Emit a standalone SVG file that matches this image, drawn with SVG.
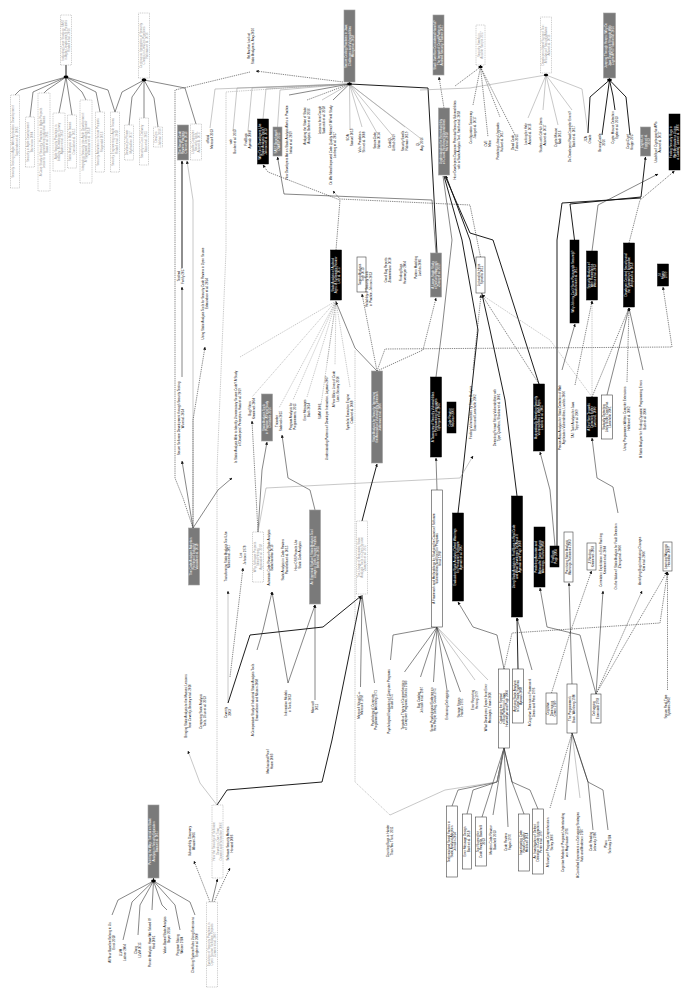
<svg xmlns="http://www.w3.org/2000/svg" width="689" height="997" viewBox="0 0 689 997">
<defs>
<marker id="ar" viewBox="0 0 6 6" refX="5.5" refY="3" markerWidth="3" markerHeight="3" markerUnits="userSpaceOnUse" orient="auto"><path d="M0,0L6,3L0,6z" fill="#111"/></marker>
<style>
text{font-family:"Liberation Sans",Arial,sans-serif;font-size:3px;text-anchor:middle;fill:#111}
.bk rect{fill:#000;stroke:#000;stroke-width:.5}
.bk text{fill:#fff}
.gr rect{fill:#7a7a7a;stroke:#a0a0a0;stroke-width:.6}
.gr text{fill:#fff}
.wh rect{fill:#fff;stroke:#444;stroke-width:.6}
.dt rect{fill:#fff;stroke:#999;stroke-width:.5;stroke-dasharray:1 .8}
.dt text{fill:#999}
.hub{fill:#000}
#edges polyline{fill:none;stroke:#222;stroke-width:.55}
#edges .t{stroke:#111;stroke-width:.95}
#edges .g{stroke:#9a9a9a}
#edges .d{stroke-dasharray:1.3 .9}
#edges .a{marker-end:url(#ar)}
</style>
</defs>
<rect width="689" height="997" fill="#fff"/>

<g id="edges">
<polyline class="t" points="66,65 66,77"/>
<polyline points="66,77 20,90 15,95"/>
<polyline points="66,77 33,92 30,117"/>
<polyline points="66,77 47,90 44,93"/>
<polyline points="66,77 59,113"/>
<polyline points="66,77 72,115"/>
<polyline points="66,77 82,92 86,100"/>
<polyline points="66,77 96,92 100,112"/>
<polyline points="66,77 108,90 115,112"/>
<polyline class="t" points="144,78 144,80"/>
<polyline points="144,80 122,92 115,112"/>
<polyline points="144,80 132,97 129,125"/>
<polyline points="144,80 144,118"/>
<polyline points="144,80 154,98 158,127"/>
<polyline points="144,80 185,88 196,124"/>
<polyline class="d" points="193,528 183,498 175,478 175,90 250,72"/>
<polyline class="d a" points="343,82 256,71"/>
<polyline class="d g" points="217,805 217,470 226,250 226,92 300,87 349.5,84"/>
<polyline class="t" points="349.5,82 349.5,84"/>
<polyline class="g" points="349.5,84 215,89 210,128"/>
<polyline class="g" points="349.5,84 237,88 233,131"/>
<polyline class="g" points="349.5,84 252,88 248,131"/>
<polyline class="g" points="349.5,84 266,89 263,119"/>
<polyline class="g" points="349.5,84 280,90 277.5,127"/>
<polyline points="349.5,84 289,95"/>
<polyline class="d" points="349.5,84 307,100"/>
<polyline class="g" points="349.5,84 322,100"/>
<polyline points="349.5,84 333,100"/>
<polyline class="g" points="349.5,84 350,130"/>
<polyline class="g" points="349.5,84 362,127"/>
<polyline class="g" points="349.5,84 377,133"/>
<polyline class="g" points="349.5,84 392,135"/>
<polyline class="g" points="349.5,84 405,127"/>
<polyline class="g" points="349.5,84 420,138"/>
<polyline class="t" points="349.5,84 428,88 437,253"/>
<polyline class="d a" points="444,108 439,77"/>
<polyline class="t" points="480.5,65 480.5,67"/>
<polyline class="d" points="480.5,67 473,105"/>
<polyline class="d" points="480.5,67 488,137"/>
<polyline class="d" points="480.5,67 500,117"/>
<polyline class="d" points="480.5,67 515,135"/>
<polyline class="d" points="480.5,67 455,86"/>
<polyline class="g" points="546,73 546,75"/>
<polyline class="g" points="546,75 528,118"/>
<polyline class="g" points="546,75 543,110"/>
<polyline class="g" points="546,75 558,125"/>
<polyline class="g" points="546,75 572,110"/>
<polyline class="g" points="546,75 470,88 420,90"/>
<polyline class="g" points="546,75 582,89 588,133"/>
<polyline class="t" points="609.5,78 609.5,80"/>
<polyline class="t" points="609.5,80 590,97 588,133"/>
<polyline class="t" points="609.5,80 602,135"/>
<polyline class="t" points="609.5,80 613,96 615,110"/>
<polyline class="t" points="609.5,80 626,97 630,135"/>
<polyline class="a" points="436,253 432,200 284,194 277.5,157"/>
<polyline class="d a" points="336,250 340,200 268,172 263,165"/>
<polyline class="t a" points="574.5,240 570,204 641,197 645.5,157"/>
<polyline class="d a" points="629,243 640,200 674.5,171"/>
<polyline class="a" points="592,251 598,205 658,174"/>
<polyline class="d a" points="480.5,257 470,205 340,199 333,191"/>
<polyline class="t a" points="517,496 505,400 490,330 470,240 446,176"/>
<polyline class="t" points="458,513 463,470 478,330 462,240 444,176"/>
<polyline points="436,377 442,330 452,240 443,176"/>
<polyline class="t" points="539,384 493,240 470,233 445,176"/>
<polyline class="t" points="557,546 557,240 562,203 641,198"/>
<polyline class="g d" points="336,301 240,357"/>
<polyline class="g d" points="336,301 252,397"/>
<polyline class="g d" points="336,301 279,408"/>
<polyline class="g d" points="336,301 293,400"/>
<polyline class="g d" points="336,301 307,397"/>
<polyline class="g d" points="336,301 321,405"/>
<polyline class="g d" points="336,301 327,363"/>
<polyline class="g d" points="336,301 335,365"/>
<polyline class="g d" points="336,301 350,387"/>
<polyline class="a" points="377,371 355,348 336,302"/>
<polyline class="d a" points="377,371 362,294"/>
<polyline class="d a" points="377,371 423,350 436,298"/>
<polyline class="d a" points="377,371 385,349 672,347 663,287"/>
<polyline class="a" points="437,490 436,458"/>
<polyline class="d a" points="539,384 482,295"/>
<polyline class="d a" points="473,370 481,295"/>
<polyline class="g d a" points="592,397 550,340 482,295"/>
<polyline class="a" points="562,370 575,324"/>
<polyline class="g d a" points="592,397 592,301"/>
<polyline class="d a" points="575,385 592,301"/>
<polyline class="a" points="607,395 629,308"/>
<polyline class="a" points="643,370 629,308"/>
<polyline class="d a" points="627,382 629,308"/>
<polyline class="d" points="592,397 629,308"/>
<polyline class="t a" points="182,268 182,161"/>
<polyline class="a" points="182,377 182,287"/>
<polyline class="g a" points="193,528 193,200 187,161"/>
<polyline class="d a" points="193,528 193,420 205,347"/>
<polyline class="a" points="193,528 218,490 232,478"/>
<polyline class="a" points="193,528 182,461"/>
<polyline class="a" points="258,532 262,470 267,442"/>
<polyline class="d a" points="258,532 252,421"/>
<polyline class="a" points="315,510 310,490 288,478 282,435"/>
<polyline class="g a" points="258,532 266,488 460,478 473,456"/>
<polyline class="t a" points="362,521 370,490 377,464"/>
<polyline class="a" points="315,700 315,605"/>
<polyline class="a" points="288,683 315,605"/>
<polyline class="a" points="257,650 263,630 272,592"/>
<polyline class="a" points="288,683 272,592"/>
<polyline class="d a" points="230,677 243,568"/>
<polyline class="g a" points="228,703 228,591"/>
<polyline class="t a" points="217,805 227,790 322,782 332,740 361,596"/>
<polyline class="t a" points="228,703 250,635 323,627 361,596"/>
<polyline points="362,595 360.5,687"/>
<polyline points="362,595 374.5,683"/>
<polyline points="437,627 393,635 390.5,660"/>
<polyline points="437,627 404.5,672"/>
<polyline points="437,627 420.5,677"/>
<polyline points="437,627 433.5,682"/>
<polyline points="437,627 447,690"/>
<polyline points="437,627 460.5,692"/>
<polyline class="g" points="437,627 475,680"/>
<polyline class="g" points="437,627 488,680"/>
<polyline class="a" points="504,669 497,635 473,627 458,602"/>
<polyline class="d a" points="504,669 512,633 660,623 667.5,572"/>
<polyline class="t a" points="518,669 517,618"/>
<polyline class="a" points="532,670 517,618"/>
<polyline class="a" points="596,694 580,635 547,627 540,588"/>
<polyline class="d a" points="551.5,693 570,633 591.5,571"/>
<polyline class="a" points="596,694 603,591"/>
<polyline class="d a" points="596,694 642,591"/>
<polyline class="d a" points="596,694 667,572"/>
<polyline class="d a" points="667.5,690 667.5,572"/>
<polyline class="a" points="555,546 550,490 540,452"/>
<polyline class="a" points="618,513 613,487 597,478 592,438"/>
<polyline class="a" points="572,684 569,583"/>
<polyline points="504,748 497,782 458,790 452,806"/>
<polyline points="504,748 497,782 473,790 467,814"/>
<polyline points="504,748 482,817"/>
<polyline points="504,748 493,815"/>
<polyline points="504,748 508,827"/>
<polyline points="504,748 512,782 524,814"/>
<polyline points="504,748 512,782 530,790 538,809"/>
<polyline class="g" points="504,748 497,782 445,790 390,815"/>
<polyline class="d g" points="390,815 355,782 355,350"/>
<polyline class="d" points="572,733 550,808"/>
<polyline points="572,733 565,800"/>
<polyline class="g" points="572,733 580,798"/>
<polyline points="572,733 588,782 593,830"/>
<polyline points="572,733 588,782 603,790 608,830"/>
<polyline class="t" points="153.5,878 153.5,881"/>
<polyline points="153.5,881 118,900 112,915"/>
<polyline points="153.5,881 132,902 123,940"/>
<polyline points="153.5,881 140,905 138,935"/>
<polyline points="153.5,881 152,910"/>
<polyline points="153.5,881 162,905 167,910"/>
<polyline points="153.5,881 175,905 180,930"/>
<polyline points="153.5,881 190,902 195,915"/>
<polyline class="a" points="212,902 217.5,879"/>
<polyline class="d a" points="210,902 194,861"/>
<polyline class="d a" points="214,902 230,868"/>
<polyline class="g a" points="217,805 200,783 188,751"/>
</g>

<g id="hubs">
<ellipse class="hub" cx="66" cy="77" rx="2.4" ry="1.4"/>
<ellipse class="hub" cx="144" cy="80" rx="2.4" ry="1.4"/>
<ellipse class="hub" cx="349.5" cy="84" rx="2.4" ry="1.4"/>
<ellipse class="hub" cx="480.5" cy="67" rx="2.2" ry="1.3"/>
<ellipse class="hub" cx="546" cy="75" rx="2.2" ry="1.3" fill="#999"/>
<ellipse class="hub" cx="609.5" cy="80" rx="2.4" ry="1.4"/>
<ellipse class="hub" cx="153.5" cy="881" rx="2.4" ry="1.4"/>
</g>

<g id="n1" class="dt" transform="translate(66,40) rotate(-90)"><rect x="-25" y="-5.5" width="50" height="11"/><text><tspan x="0" y="-2.35">Industrial Case Study on SAST</tspan><tspan x="0" y="1.05">in Agile Development Projects</tspan><tspan x="0" y="4.45">Rindell et al. 2016</tspan></text></g>
<g id="c1" class="dt" transform="translate(15,141.5) rotate(-90)"><rect x="-46.5" y="-4.5" width="93" height="9"/><text><tspan x="0" y="-0.65">Security Testing in Agile Web Application Development</tspan><tspan x="0" y="2.75">Tappenden et al. 2005</tspan></text></g>
<g id="c2" class="dt" transform="translate(30,142) rotate(-90)"><rect x="-25" y="-4.5" width="50" height="9"/><text><tspan x="0" y="-0.65">Security in Agile Development</tspan><tspan x="0" y="2.75">Beznosov 2004</tspan></text></g>
<g id="c3" class="dt" transform="translate(44,142) rotate(-90)"><rect x="-49" y="-6" width="98" height="12"/><text><tspan x="0" y="-2.35">A Case Study of Security Practices in Agile Projects</tspan><tspan x="0" y="1.05">Lessons Learned from Industrial Teams</tspan><tspan x="0" y="4.45">Baca et al. 2011</tspan></text></g>
<g id="c4" class="dt" transform="translate(59,142) rotate(-90)"><rect x="-29" y="-6" width="58" height="12"/><text><tspan x="0" y="-2.35">Agile Security Practices in</tspan><tspan x="0" y="1.05">Industry: A Developer Survey</tspan><tspan x="0" y="4.45">Ayalew et al. 2013</tspan></text></g>
<g id="c5" class="dt" transform="translate(72,141.5) rotate(-90)"><rect x="-26.5" y="-4.5" width="53" height="9"/><text><tspan x="0" y="-0.65">Static Analysis in Agile Teams</tspan><tspan x="0" y="2.75">Oueslati et al. 2015</tspan></text></g>
<g id="c6" class="dt" transform="translate(86,141.5) rotate(-90)"><rect x="-41.5" y="-6" width="83" height="12"/><text><tspan x="0" y="-2.35">Integrating Security into Agile Development:</tspan><tspan x="0" y="1.05">A Systematic Literature Review</tspan><tspan x="0" y="4.45">Villamizar et al. 2018</tspan></text></g>
<g id="c7" class="dt" transform="translate(100,142) rotate(-90)"><rect x="-30" y="-4.5" width="60" height="9"/><text><tspan x="0" y="-0.65">Security Activities in Scrum Projects</tspan><tspan x="0" y="2.75">Fitzgerald 2016</tspan></text></g>
<g id="c8" class="dt" transform="translate(115,142) rotate(-90)"><rect x="-30" y="-4.5" width="60" height="9"/><text><tspan x="0" y="-0.65">Security Engineering in Agile Teams</tspan><tspan x="0" y="2.75">Rindell et al. 2018</tspan></text></g>
<g id="n2" class="dt" transform="translate(144,45.5) rotate(-90)"><rect x="-32.5" y="-5.5" width="65" height="11"/><text><tspan x="0" y="-2.35">Continuous Integration of Security</tspan><tspan x="0" y="1.05">Checks in DevOps Pipelines</tspan><tspan x="0" y="4.45">Rahman et al. 2016</tspan></text></g>
<g id="c9" class="dt" transform="translate(129,142.5) rotate(-90)"><rect x="-17.5" y="-4.5" width="35" height="9"/><text><tspan x="0" y="-0.65">DevSecOps Primer</tspan><tspan x="0" y="2.75">Myrbakken 2017</tspan></text></g>
<g id="c10" class="dt" transform="translate(144,141.5) rotate(-90)"><rect x="-23.5" y="-4.5" width="47" height="9"/><text><tspan x="0" y="-0.65">Security in Cont. Delivery</tspan><tspan x="0" y="2.75">Bass et al. 2015</tspan></text></g>
<g id="c11" class="dt" transform="translate(158,137) rotate(-90)"><rect x="-10" y="-4.5" width="20" height="9"/><text><tspan x="0" y="-0.65">DevOps</tspan><tspan x="0" y="2.75">Jabbari 2016</tspan></text></g>
<g id="c12" class="dt" transform="translate(196,142) rotate(-90)"><rect x="-18" y="-5.5" width="36" height="11"/><text><tspan x="0" y="-2.35">Usable Computer</tspan><tspan x="0" y="1.05">Security Tools</tspan><tspan x="0" y="4.45">Acar et al. 2017</tspan></text></g>
<g id="g1" class="gr" transform="translate(183,142.5) rotate(-90)"><rect x="-17.5" y="-5.5" width="35" height="11"/><text><tspan x="0" y="-2.35">The Secure Code</tspan><tspan x="0" y="1.05">Review Practices</tspan><tspan x="0" y="4.45">Chen et al. 2013</tspan></text></g>
<g id="l_fortify" transform="translate(181,276) rotate(-90)"><text><tspan x="0" y="-0.65">Testbed</tspan><tspan x="0" y="2.75">Fortify 2017</tspan></text></g>
<g id="l_wu" transform="translate(181,418.5) rotate(-90)"><text><tspan x="0" y="-0.65">Secure Software Development through Security Testing</tspan><tspan x="0" y="2.75">Wu et al. 2014</tspan></text></g>
<g id="l_edm" transform="translate(205,293.5) rotate(-90)"><text><tspan x="0" y="-0.65">Using Static Analysis Tools for Security Code Review in Open Source</tspan><tspan x="0" y="2.75">Edmundson et al. 2014</tspan></text></g>
<g id="l_haas" transform="translate(238,417) rotate(-90)"><text><tspan x="0" y="-0.65">Is Static Analysis Able to Identify Unnecessary Source Code? A Study</tspan><tspan x="0" y="2.75">of Developers' Perception, Haas et al. 2019</tspan></text></g>
<g id="l_off" transform="translate(210,139) rotate(-90)"><text><tspan x="0" y="-0.65">official</tspan><tspan x="0" y="2.75">Microsoft 2013</tspan></text></g>
<g id="l_web" transform="translate(233,141.5) rotate(-90)"><text><tspan x="0" y="-0.65">web</tspan><tspan x="0" y="2.75">Bunker et al. 2013</tspan></text></g>
<g id="l_fb" transform="translate(248,139.5) rotate(-90)"><text><tspan x="0" y="-0.65">FindBugs</tspan><tspan x="0" y="2.75">Ayewah 2008</tspan></text></g>
<g id="l_ye" transform="translate(251,46) rotate(-90)"><text><tspan x="0" y="-0.65">Yet Another Look at</tspan><tspan x="0" y="2.75">Static Analyzers, Arvy 2016</tspan></text></g>

<g id="g2" class="gr" transform="translate(349.5,46) rotate(-90)"><rect x="-36" y="-5.5" width="72" height="11"/><text><tspan x="0" y="-2.35">Secure Coding Practices in Java:</tspan><tspan x="0" y="1.05">Challenges and Vulnerabilities</tspan><tspan x="0" y="4.45">Meng et al. 2018</tspan></text></g>
<g id="b1" class="bk" transform="translate(263,141.5) rotate(-90)"><rect x="-22.5" y="-5.5" width="45" height="11"/><text><tspan x="0" y="-2.35">Why Don't Developers Use</tspan><tspan x="0" y="1.05">Static Analysis Tools?</tspan><tspan x="0" y="4.45">Johnson et al. 2013</tspan></text></g>
<g id="g3" class="gr" transform="translate(277.5,141.5) rotate(-90)"><rect x="-14.5" y="-4.5" width="29" height="9"/><text><tspan x="0" y="-0.65">SAST Benchmark</tspan><tspan x="0" y="2.75">OWASP 2015</tspan></text></g>
<g id="l_imtiaz" transform="translate(289,142.5) rotate(-90)"><text><tspan x="0" y="-0.65">How Developers Act on Static Analysis Alerts in Practice</tspan><tspan x="0" y="2.75">Imtiaz et al. 2019</tspan></text></g>
<g id="l_beller" transform="translate(307,126) rotate(-90)"><text><tspan x="0" y="-0.65">Analyzing the State of Static</tspan><tspan x="0" y="2.75">Analysis, Beller et al. 2016</tspan></text></g>
<g id="l_sad" transform="translate(322,120) rotate(-90)"><text><tspan x="0" y="-0.65">Lessons from Google</tspan><tspan x="0" y="2.75">Sadowski et al. 2018</tspan></text></g>
<g id="l_lenb" transform="translate(333,145) rotate(-90)"><text><tspan x="0" y="-0.65">Do We Need Improved Code Quality Metrics? A Field Study</tspan><tspan x="0" y="2.75">Lenberg et al. 2017</tspan></text></g>
<g id="l_sam" transform="translate(350,137.5) rotate(-90)"><text><tspan x="0" y="-0.65">SOA</tspan><tspan x="0" y="2.75">Samuel 2013</tspan></text></g>
<g id="l_shin" transform="translate(362,142) rotate(-90)"><text><tspan x="0" y="-0.65">Vuln. Prediction</tspan><tspan x="0" y="2.75">Shin et al. 2008</tspan></text></g>
<g id="l_nah" transform="translate(377,140.5) rotate(-90)"><text><tspan x="0" y="-0.65">SecureCode</tspan><tspan x="0" y="2.75">Nahas 2014</tspan></text></g>
<g id="l_ql" transform="translate(392,142.5) rotate(-90)"><text><tspan x="0" y="-0.65">CodeQL</tspan><tspan x="0" y="2.75">GitHub 2019</tspan></text></g>
<g id="l_smell" transform="translate(405,141) rotate(-90)"><text><tspan x="0" y="-0.65">Security Smells</tspan><tspan x="0" y="2.75">Rahman 2019</tspan></text></g>
<g id="l_avg" transform="translate(420,144) rotate(-90)"><text><tspan x="0" y="-0.65">QL</tspan><tspan x="0" y="2.75">Avg. 2016</tspan></text></g>
<g id="g4" class="gr" transform="translate(438.5,45) rotate(-90)"><rect x="-30" y="-5.5" width="60" height="11"/><text><tspan x="0" y="-2.35">Stack Overflow Considered Harmful?</tspan><tspan x="0" y="1.05">The Impact of Copy&amp;Paste on</tspan><tspan x="0" y="4.45">Android Security, Fischer 2017</tspan></text></g>
<g id="g5" class="gr" transform="translate(444,141.5) rotate(-90)"><rect x="-33.5" y="-5.5" width="67" height="11"/><text><tspan x="0" y="-2.35">Understanding the Reproducibility</tspan><tspan x="0" y="1.05">of Crowd-Reported Vulnerabilities</tspan><tspan x="0" y="4.45">Mu et al. 2018</tspan></text></g>
<g id="l_smith" transform="translate(457,140) rotate(-90)"><text><tspan x="0" y="-0.65">How Developers Diagnose Potential Security Vulnerabilities</tspan><tspan x="0" y="2.75">with a Static Analysis Tool, Smith et al. 2018</tspan></text></g>

<g id="d3" class="dt" transform="translate(480.5,45) rotate(-90)"><rect x="-20" y="-4.5" width="40" height="9"/><text><tspan x="0" y="-0.65">Security Smells in</tspan><tspan x="0" y="2.75">Ansible Scripts 2017</tspan></text></g>
<g id="l_jiang" transform="translate(473,127.5) rotate(-90)"><text><tspan x="0" y="-0.65">Configuration Taxonomy</tspan><tspan x="0" y="2.75">Jiang et al. 2017</tspan></text></g>
<g id="l_cve" transform="translate(488,143.5) rotate(-90)"><text><tspan x="0" y="-0.65">CVE</tspan><tspan x="0" y="2.75">Mitre</tspan></text></g>
<g id="l_kula" transform="translate(500,141) rotate(-90)"><text><tspan x="0" y="-0.65">Predicting Library Upgrades</tspan><tspan x="0" y="2.75">Kula et al. 2017</tspan></text></g>
<g id="l_dead" transform="translate(515,142.5) rotate(-90)"><text><tspan x="0" y="-0.65">Dead Code</tspan><tspan x="0" y="2.75">Tufano 2015</tspan></text></g>
<g id="d4" class="dt" transform="translate(546,45) rotate(-90)"><rect x="-28" y="-5.5" width="56" height="11"/><text><tspan x="0" y="-2.35">Developers Need Support Too:</tspan><tspan x="0" y="1.05">A Survey of Security Advice</tspan><tspan x="0" y="4.45">Acar et al. 2016</tspan></text></g>
<g id="l_acar" transform="translate(528,134) rotate(-90)"><text><tspan x="0" y="-0.65">Looking for Help</tspan><tspan x="0" y="2.75">Acar et al. 2016</tspan></text></g>
<g id="l_gh" transform="translate(543,135) rotate(-90)"><text><tspan x="0" y="-0.65">Studies with GitHub Users</tspan><tspan x="0" y="2.75">Acar et al. 2017</tspan></text></g>
<g id="l_nadi" transform="translate(558,137.5) rotate(-90)"><text><tspan x="0" y="-0.65">Crypto Misuse</tspan><tspan x="0" y="2.75">Nadi 2016</tspan></text></g>
<g id="l_barik" transform="translate(572,136.5) rotate(-90)"><text><tspan x="0" y="-0.65">Do Developers Read Compiler Errors?</tspan><tspan x="0" y="2.75">Barik et al. 2017</tspan></text></g>
<g id="g6" class="gr" transform="translate(609.5,45.5) rotate(-90)"><rect x="-32.5" y="-6" width="65" height="12"/><text><tspan x="0" y="-2.35">Jumping Through Hoops: Why Do</tspan><tspan x="0" y="1.05">Java Developers Struggle With</tspan><tspan x="0" y="4.45">Crypto APIs? Nadi et al. 2016</tspan></text></g>
<g id="l_jca" transform="translate(588,139) rotate(-90)"><text><tspan x="0" y="-0.65">JCA</tspan><tspan x="0" y="2.75">Oracle</tspan></text></g>
<g id="l_bouncy" transform="translate(602,142.5) rotate(-90)"><text><tspan x="0" y="-0.65">BouncyCastle</tspan><tspan x="0" y="2.75">2016</tspan></text></g>
<g id="l_egele" transform="translate(615,127.5) rotate(-90)"><text><tspan x="0" y="-0.65">Crypto Misuse Detection</tspan><tspan x="0" y="2.75">Egele et al. 2013</tspan></text></g>
<g id="l_cogni" transform="translate(630,141.5) rotate(-90)"><text><tspan x="0" y="-0.65">CogniCrypt</tspan><tspan x="0" y="2.75">Kruger 2017</tspan></text></g>
<g id="g7" class="gr" transform="translate(645.5,141.5) rotate(-90)"><rect x="-14.5" y="-5" width="29" height="10"/><text><tspan x="0" y="-2.35">CryptoLint</tspan><tspan x="0" y="1.05">Egele et al.</tspan><tspan x="0" y="4.45">2013</tspan></text></g>
<g id="l_usab" transform="translate(658,142) rotate(-90)"><text><tspan x="0" y="-0.65">Usability of Cryptographic APIs</tspan><tspan x="0" y="2.75">Acar et al. 2017</tspan></text></g>
<g id="b2" class="bk" transform="translate(674.5,142) rotate(-90)"><rect x="-28" y="-5.5" width="56" height="11"/><text><tspan x="0" y="-2.35">Finding Security Bugs in</tspan><tspan x="0" y="1.05">Web Applications Using</tspan><tspan x="0" y="4.45">a Catalog, Lam et al. 2006</tspan></text></g>

<g id="b3" class="bk" transform="translate(336,275) rotate(-90)"><rect x="-25" y="-5.5" width="50" height="11"/><text><tspan x="0" y="-2.35">Static Analysis of Android</tspan><tspan x="0" y="1.05">Apps: A Systematic Review</tspan><tspan x="0" y="4.45">Li et al. 2017</tspan></text></g>
<g id="w1" class="wh" transform="translate(361.5,274.5) rotate(-90)"><rect x="-17.5" y="-4.5" width="35" height="9"/><text><tspan x="0" y="-0.65">Taming Analysis</tspan><tspan x="0" y="2.75">Tripp 2013</tspan></text></g>
<g id="l_rel" transform="translate(369,289) rotate(-90)"><text><tspan x="0" y="-0.65">Reliability of Security Tools</tspan><tspan x="0" y="2.75">in Practice, Johnson 2013</tspan></text></g>
<g id="l_zim" transform="translate(388,270) rotate(-90)"><text><tspan x="0" y="-0.65">Good Bug Reports</tspan><tspan x="0" y="2.75">Zimmermann 2010</tspan></text></g>
<g id="l_hov" transform="translate(403,272.5) rotate(-90)"><text><tspan x="0" y="-0.65">Finding Bugs</tspan><tspan x="0" y="2.75">Hovemeyer 2004</tspan></text></g>
<g id="l_liv" transform="translate(418,267.5) rotate(-90)"><text><tspan x="0" y="-0.65">Pattern Matching</tspan><tspan x="0" y="2.75">Livshits 2005</tspan></text></g>
<g id="g8" class="gr" transform="translate(436,275) rotate(-90)"><rect x="-22" y="-5.5" width="44" height="11"/><text><tspan x="0" y="-2.35">A Large-Scale Study</tspan><tspan x="0" y="1.05">of Security Warnings</tspan><tspan x="0" y="4.45">Zhang et al. 2019</tspan></text></g>
<g id="w2" class="wh" transform="translate(480.5,275) rotate(-90)"><rect x="-18" y="-4.5" width="36" height="9"/><text><tspan x="0" y="-0.65">Lint and its Heirs</tspan><tspan x="0" y="2.75">Spinellis 2011</tspan></text></g>
<g id="b4" class="bk" transform="translate(574.5,281.5) rotate(-90)"><rect x="-41.5" y="-4.5" width="83" height="9"/><text><tspan x="0" y="-0.65">Why Johnny Can't Store Passwords Securely?</tspan><tspan x="0" y="2.75">Naiakshina et al. 2017</tspan></text></g>
<g id="b5" class="bk" transform="translate(592,275.5) rotate(-90)"><rect x="-24.5" y="-5.5" width="49" height="11"/><text><tspan x="0" y="-2.35">Security Analysis of</tspan><tspan x="0" y="1.05">Web Frameworks</tspan><tspan x="0" y="4.45">Weiss et al. 2013</tspan></text></g>
<g id="b6" class="bk" transform="translate(629,275) rotate(-90)"><rect x="-32" y="-5.5" width="64" height="11"/><text><tspan x="0" y="-2.35">Developer-Centred Security and</tspan><tspan x="0" y="1.05">the Symmetry of Ignorance</tspan><tspan x="0" y="4.45">Votipka et al. 2018</tspan></text></g>
<g id="b7" class="bk" transform="translate(663,275) rotate(-90)"><rect x="-11" y="-5.5" width="22" height="11"/><text><tspan x="0" y="-2.35">Jif</tspan><tspan x="0" y="1.05">Myers</tspan><tspan x="0" y="4.45">1999</tspan></text></g>

<g id="g9" class="gr" transform="translate(267,417.5) rotate(-90)"><rect x="-23.5" y="-5.5" width="47" height="11"/><text><tspan x="0" y="-2.35">Static Analysis Tools</tspan><tspan x="0" y="1.05">in Practice: A Field Study</tspan><tspan x="0" y="4.45">Christakis 2016</tspan></text></g>
<g id="l_krem" transform="translate(252,408.5) rotate(-90)"><text><tspan x="0" y="-0.65">Bug Filters</tspan><tspan x="0" y="2.75">Kremenek 2004</tspan></text></g>
<g id="l_sad15" transform="translate(279,421) rotate(-90)"><text><tspan x="0" y="-0.65">Tricorder</tspan><tspan x="0" y="2.75">Sadowski 2015</tspan></text></g>
<g id="l_smith15" transform="translate(293,416.5) rotate(-90)"><text><tspan x="0" y="-0.65">Program Analysis for</tspan><tspan x="0" y="2.75">Programmers, 2015</tspan></text></g>
<g id="l_barik14" transform="translate(307,410) rotate(-90)"><text><tspan x="0" y="-0.65">Error Messages</tspan><tspan x="0" y="2.75">Barik 2014</tspan></text></g>
<g id="l_ball" transform="translate(320,411.5) rotate(-90)"><text><tspan x="0" y="1.05">SLAM 2006</tspan></text></g>
<g id="l_layman" transform="translate(327,418) rotate(-90)"><text><tspan x="0" y="1.05">Understanding Patterns of Developer Interaction, Layman 2007</tspan></text></g>
<g id="l_bessey" transform="translate(336,389) rotate(-90)"><text><tspan x="0" y="-0.65">A Few Billion Lines of Code</tspan><tspan x="0" y="2.75">Later, Bessey 2010</tspan></text></g>
<g id="l_cadar" transform="translate(350,412) rotate(-90)"><text><tspan x="0" y="-0.65">Symbolic Execution Engine</tspan><tspan x="0" y="2.75">Cadar et al. 2008</tspan></text></g>
<g id="g10" class="gr" transform="translate(377,417) rotate(-90)"><rect x="-46" y="-5.5" width="92" height="11"/><text><tspan x="0" y="-2.35">Static Analysis for Security: Improving</tspan><tspan x="0" y="1.05">the Accuracy of Vulnerability Detection</tspan><tspan x="0" y="4.45">Jovanovic et al. 2006</tspan></text></g>
<g id="b8" class="bk" transform="translate(436,417) rotate(-90)"><rect x="-40" y="-5.5" width="80" height="11"/><text><tspan x="0" y="-2.35">A Taxonomy of Security Vulnerabilities</tspan><tspan x="0" y="1.05">in Programming Languages</tspan><tspan x="0" y="4.45">Tsipenyuk et al. 2005</tspan></text></g>
<g id="b9" class="bk" transform="translate(451.5,417.5) rotate(-90)"><rect x="-15.5" y="-4.5" width="31" height="9"/><text><tspan x="0" y="-0.65">Code Review</tspan><tspan x="0" y="2.75">McGraw 2006</tspan></text></g>
<g id="l_evans" transform="translate(473,412.5) rotate(-90)"><text><tspan x="0" y="-0.65">Finding Vulnerabilities by Static Analysis</tspan><tspan x="0" y="2.75">Evans and Larochelle 2002</tspan></text></g>
<g id="l_shankar" transform="translate(497,417.5) rotate(-90)"><text><tspan x="0" y="-0.65">Detecting Format String Vulnerabilities with</tspan><tspan x="0" y="2.75">Type Qualifiers, Shankar et al. 2001</tspan></text></g>
<g id="b10" class="bk" transform="translate(539,417.5) rotate(-90)"><rect x="-33.5" y="-5.5" width="67" height="11"/><text><tspan x="0" y="-2.35">Automatically Detecting Security</tspan><tspan x="0" y="1.05">Vulnerabilities in Web Apps</tspan><tspan x="0" y="4.45">Livshits et al. 2005</tspan></text></g>
<g id="l_liv06" transform="translate(562,417.5) rotate(-90)"><text><tspan x="0" y="-0.65">Precise Alias Analysis for Static Detection of Web</tspan><tspan x="0" y="2.75">Application Vulnerabilities, Livshits 2006</tspan></text></g>
<g id="l_tripp" transform="translate(575,420) rotate(-90)"><text><tspan x="0" y="-0.65">TAJ: Taint Analysis for Java</tspan><tspan x="0" y="2.75">Tripp et al. 2009</tspan></text></g>
<g id="b11" class="bk" transform="translate(592,417) rotate(-90)"><rect x="-20" y="-5.5" width="40" height="11"/><text><tspan x="0" y="-2.35">A First Step Towards</tspan><tspan x="0" y="1.05">Detecting Buffer</tspan><tspan x="0" y="4.45">Overruns, 2000</tspan></text></g>
<g id="w3" class="wh" transform="translate(607,417) rotate(-90)"><rect x="-22" y="-5.5" width="44" height="11"/><text><tspan x="0" y="-2.35">Statically Detecting</tspan><tspan x="0" y="1.05">Likely Buffer Overflows</tspan><tspan x="0" y="4.45">Larochelle 2001</tspan></text></g>
<g id="l_hallem" transform="translate(627,418.5) rotate(-90)"><text><tspan x="0" y="-0.65">Using Programmer-Written Compiler Extensions</tspan><tspan x="0" y="2.75">Hallem et al. 2002</tspan></text></g>
<g id="l_bush" transform="translate(643,419) rotate(-90)"><text><tspan x="0" y="-0.65">A Static Analyzer for Finding Dynamic Programming Errors</tspan><tspan x="0" y="2.75">Bush et al. 2000</tspan></text></g>

<g id="g11" class="gr" transform="translate(194,556.5) rotate(-90)"><rect x="-28.5" y="-5.5" width="57" height="11"/><text><tspan x="0" y="-2.35">The Code Analyzer Adoption</tspan><tspan x="0" y="1.05">Problem in Industry</tspan><tspan x="0" y="4.45">Vassallo et al. 2018</tspan></text></g>
<g id="l_nunes" transform="translate(227.5,556.5) rotate(-90)"><text><tspan x="0" y="-0.65">Transforming Static Analysis Tool Use</tspan><tspan x="0" y="2.75">Nunes et al. 2017</tspan></text></g>
<g id="l_lint" transform="translate(243,555) rotate(-90)"><text><tspan x="0" y="-0.65">Lint</tspan><tspan x="0" y="2.75">Johnson 1978</tspan></text></g>
<g id="d5" class="dt" transform="translate(258,557) rotate(-90)"><rect x="-25" y="-5.5" width="50" height="11"/><text><tspan x="0" y="-2.35">Why Software Projects</tspan><tspan x="0" y="1.05">Need Heroes</tspan><tspan x="0" y="4.45">Agrawal et al. 2018</tspan></text></g>
<g id="l_bala" transform="translate(270.5,557.5) rotate(-90)"><text><tspan x="0" y="-0.65">Automatic Code Review by Static Analysis</tspan><tspan x="0" y="2.75">Balachandran 2013</tspan></text></g>
<g id="l_pan" transform="translate(285,560) rotate(-90)"><text><tspan x="0" y="-0.65">Static Analysis in Code Review</tspan><tspan x="0" y="2.75">Panichella et al. 2015</tspan></text></g>
<g id="l_oss" transform="translate(298,555) rotate(-90)"><text><tspan x="0" y="-0.65">How OSS Projects Use</tspan><tspan x="0" y="2.75">Static Code Analysis</tspan></text></g>
<g id="g12" class="gr" transform="translate(315,557) rotate(-90)"><rect x="-47" y="-5.5" width="94" height="11"/><text><tspan x="0" y="-2.35">An Empirical Study of Static Analysis Tool</tspan><tspan x="0" y="1.05">Usage in Open Source Projects</tspan><tspan x="0" y="4.45">Beller et al. 2016</tspan></text></g>
<g id="d6" class="dt" transform="translate(362,557.5) rotate(-90)"><rect x="-36.5" y="-5.5" width="73" height="11"/><text><tspan x="0" y="-2.35">The Usage of Automatic Static</tspan><tspan x="0" y="1.05">Analysis Tools in Open Source</tspan><tspan x="0" y="4.45">Zampetti et al. 2017</tspan></text></g>
<g id="w4" class="wh" transform="translate(437,558.5) rotate(-90)"><rect x="-68.5" y="-5.5" width="137" height="11"/><text><tspan x="0" y="-2.35">A Framework and Methodology for Studying the Causes of Software</tspan><tspan x="0" y="1.05">Vulnerabilities and Errors in Programs</tspan><tspan x="0" y="4.45">Krsul 1998</tspan></text></g>
<g id="b12" class="bk" transform="translate(458,557) rotate(-90)"><rect x="-44" y="-5.5" width="88" height="11"/><text><tspan x="0" y="-2.35">Evaluating Static Analysis Defect Warnings</tspan><tspan x="0" y="1.05">on Production Software</tspan><tspan x="0" y="4.45">Ayewah et al. 2007</tspan></text></g>
<g id="b13" class="bk" transform="translate(517,556.5) rotate(-90)"><rect x="-60.5" y="-5.5" width="121" height="11"/><text><tspan x="0" y="-2.35">Using Static Analysis to Find Bugs in Real Code</tspan><tspan x="0" y="1.05">and What Developers Do About It</tspan><tspan x="0" y="4.45">Ayewah and Pugh 2008</tspan></text></g>
<g id="b14" class="bk" transform="translate(539.5,557) rotate(-90)"><rect x="-30" y="-5.5" width="60" height="11"/><text><tspan x="0" y="-2.35">Predicting Accurate and</tspan><tspan x="0" y="1.05">Actionable Static Analysis</tspan><tspan x="0" y="4.45">Warnings, Ruthruff 2008</tspan></text></g>
<g id="b15" class="bk" transform="translate(554.5,556.5) rotate(-90)"><rect x="-10.5" y="-4.5" width="21" height="9"/><text><tspan x="0" y="-0.65">FindBugs</tspan><tspan x="0" y="2.75">Pugh 2004</tspan></text></g>
<g id="w5" class="wh" transform="translate(568.5,557) rotate(-90)"><rect x="-25" y="-4.5" width="50" height="9"/><text><tspan x="0" y="-0.65">Prioritizing Static Analysis</tspan><tspan x="0" y="2.75">Warnings, Kremenek 2003</tspan></text></g>
<g id="w6" class="wh" transform="translate(591.5,556.5) rotate(-90)"><rect x="-13.5" y="-4.5" width="27" height="9"/><text><tspan x="0" y="-0.65">Z-Ranking</tspan><tspan x="0" y="2.75">Kremenek 2003</tspan></text></g>
<g id="l_corr" transform="translate(603,560) rotate(-90)"><text><tspan x="0" y="-0.65">Correlation Exploitation in Error Ranking</tspan><tspan x="0" y="2.75">Kremenek et al. 2004</tspan></text></g>
<g id="l_zheng" transform="translate(618,556.5) rotate(-90)"><text><tspan x="0" y="-0.65">On the Value of Static Analysis for Fault Detection</tspan><tspan x="0" y="2.75">Zheng et al. 2006</tspan></text></g>
<g id="l_kim" transform="translate(642,561) rotate(-90)"><text><tspan x="0" y="-0.65">Identifying Bug-Introducing Changes</tspan><tspan x="0" y="2.75">Kim et al. 2006</tspan></text></g>
<g id="w7" class="wh" transform="translate(667.5,556.5) rotate(-90)"><rect x="-14.5" y="-4.5" width="29" height="9"/><text><tspan x="0" y="-0.65">Learning Warnings</tspan><tspan x="0" y="2.75">Heckman 2009</tspan></text></g>

<g id="l_bessey10" transform="translate(188,706) rotate(-90)"><text><tspan x="0" y="-0.65">Bringing Static Analysis to the Masses: Lessons</tspan><tspan x="0" y="2.75">from Coverity, Bessey et al. 2010</tspan></text></g>
<g id="l_okun" transform="translate(203,711.5) rotate(-90)"><text><tspan x="0" y="-0.65">Comparing Static Analysis</tspan><tspan x="0" y="2.75">Tools, Okun et al. 2013</tspan></text></g>
<g id="l_cov" transform="translate(228,712.5) rotate(-90)"><text><tspan x="0" y="-0.65">Coverity</tspan><tspan x="0" y="2.75">2003</tspan></text></g>
<g id="l_emanu" transform="translate(255,700) rotate(-90)"><text><tspan x="0" y="-0.65">A Comparative Study of Industrial Static Analysis Tools</tspan><tspan x="0" y="2.75">Emanuelsson and Nilsson 2008</tspan></text></g>
<g id="l_hoare" transform="translate(270,761.5) rotate(-90)"><text><tspan x="0" y="-0.65">Mechanized Proof</tspan><tspan x="0" y="2.75">Hoare 2003</tspan></text></g>
<g id="l_infomod" transform="translate(288,703) rotate(-90)"><text><tspan x="0" y="-0.65">Information Models</tspan><tspan x="0" y="2.75">in Tools, 2013</tspan></text></g>
<g id="l_ms" transform="translate(315,707) rotate(-90)"><text><tspan x="0" y="-0.65">Microsoft</tspan><tspan x="0" y="2.75">2011</tspan></text></g>
<g id="l_vc" transform="translate(360.5,705) rotate(-90)"><text><tspan x="0" y="-0.65">Microsoft Visual C++</tspan><tspan x="0" y="2.75">Microsoft 1998</tspan></text></g>
<g id="l_wein" transform="translate(374.5,710) rotate(-90)"><text><tspan x="0" y="-0.65">Psychology of Computer</tspan><tspan x="0" y="2.75">Programming, Weinberg 1971</tspan></text></g>
<g id="l_good" transform="translate(390.5,701.5) rotate(-90)"><text><tspan x="0" y="-0.65">Psychological Evaluation of Computer Programs</tspan><tspan x="0" y="2.75">Gould 1975</tspan></text></g>
<g id="l_brooks" transform="translate(404.5,705) rotate(-90)"><text><tspan x="0" y="-0.65">Towards a Theory of Comprehension</tspan><tspan x="0" y="2.75">of Computer Programs, Brooks 1983</tspan></text></g>
<g id="l_john" transform="translate(420.5,700) rotate(-90)"><text><tspan x="0" y="-0.65">Bug Catalog</tspan><tspan x="0" y="2.75">Johnson et al. 1987</tspan></text></g>
<g id="l_gould" transform="translate(433.5,709.5) rotate(-90)"><text><tspan x="0" y="-0.65">Some Psychological Evidence on</tspan><tspan x="0" y="2.75">How People Debug, Gould 1975</tspan></text></g>
<g id="l_deb" transform="translate(447,705) rotate(-90)"><text><tspan x="0" y="1.05">Enhancing Debugging</tspan></text></g>
<g id="l_hanson" transform="translate(460.5,707.5) rotate(-90)"><text><tspan x="0" y="-0.65">Storage Stores</tspan><tspan x="0" y="2.75">Hanson 1995</tspan></text></g>
<g id="l_horn" transform="translate(475,700) rotate(-90)"><text><tspan x="0" y="-0.65">Error Reporting</tspan><tspan x="0" y="2.75">Horning 1979</tspan></text></g>
<g id="l_traver" transform="translate(488,707.5) rotate(-90)"><text><tspan x="0" y="-0.65">What Developers Expect from Error</tspan><tspan x="0" y="2.75">Messages, Traver 2010</tspan></text></g>
<g id="w8" class="wh" transform="translate(504,708.5) rotate(-90)"><rect x="-39.5" y="-5.5" width="79" height="11"/><text><tspan x="0" y="-2.35">Cataloging the Spread</tspan><tspan x="0" y="1.05">of Bug Patterns in Java</tspan><tspan x="0" y="4.45">Hovemeyer and Pugh 2004</tspan></text></g>
<g id="w9" class="wh" transform="translate(518,696) rotate(-90)"><rect x="-27" y="-5.5" width="54" height="11"/><text><tspan x="0" y="-2.35">Applying Static Analysis</tspan><tspan x="0" y="1.05">to Large-Scale Systems</tspan><tspan x="0" y="4.45">Ayewah 2008</tspan></text></g>
<g id="l_green" transform="translate(532,702.5) rotate(-90)"><text><tspan x="0" y="-0.65">A Cognitive Dimensions Framework</tspan><tspan x="0" y="2.75">Green and Petre 1996</tspan></text></g>
<g id="w10" class="wh" transform="translate(551.5,708.5) rotate(-90)"><rect x="-15.5" y="-5.5" width="31" height="11"/><text><tspan x="0" y="-2.35">Cognitive</tspan><tspan x="0" y="1.05">Dimensions</tspan><tspan x="0" y="4.45">Green 1989</tspan></text></g>
<g id="w11" class="wh" transform="translate(572,708.5) rotate(-90)"><rect x="-24.5" y="-5" width="49" height="10"/><text><tspan x="0" y="-0.65">The Programmer's</tspan><tspan x="0" y="2.75">Brain, Weinberg 1980</tspan></text></g>
<g id="w12" class="wh" transform="translate(596,708.5) rotate(-90)"><rect x="-14.5" y="-5" width="29" height="10"/><text><tspan x="0" y="-0.65">Debugging</tspan><tspan x="0" y="2.75">Eisenstadt 1993</tspan></text></g>
<g id="l_rt" transform="translate(667.5,706.5) rotate(-90)"><text><tspan x="0" y="-0.65">Secure Real-Time</tspan><tspan x="0" y="2.75">Systems 2002</tspan></text></g>

<g id="g13" class="gr" transform="translate(153.5,841.5) rotate(-90)"><rect x="-36.5" y="-5.5" width="73" height="11"/><text><tspan x="0" y="-2.35">Pointing the Way: Tutorial on Static</tspan><tspan x="0" y="1.05">Analysis in Security Education</tspan><tspan x="0" y="4.45">Baca et al. 2017</tspan></text></g>
<g id="l_ernst" transform="translate(112,942.5) rotate(-90)"><text><tspan x="0" y="-0.65">All Your Baseline Belong to Us</tspan><tspan x="0" y="2.75">Ernst 2018</tspan></text></g>
<g id="l_llvm" transform="translate(123,952.5) rotate(-90)"><text><tspan x="0" y="-0.65">LLVM</tspan><tspan x="0" y="2.75">Lattner 2004</tspan></text></g>
<g id="l_clang" transform="translate(138,950) rotate(-90)"><text><tspan x="0" y="-0.65">Clang</tspan><tspan x="0" y="2.75">LLVM 2015</tspan></text></g>
<g id="l_hind" transform="translate(152,942.5) rotate(-90)"><text><tspan x="0" y="-0.65">Pointer Analysis: Have We Solved It?</tspan><tspan x="0" y="2.75">Hind 2001</tspan></text></g>
<g id="l_beyer" transform="translate(167,935) rotate(-90)"><text><tspan x="0" y="-0.65">Value-Based Static Analysis</tspan><tspan x="0" y="2.75">Beyer 2014</tspan></text></g>
<g id="l_weiser" transform="translate(180,945) rotate(-90)"><text><tspan x="0" y="-0.65">Program Slicing</tspan><tspan x="0" y="2.75">Weiser 1984</tspan></text></g>
<g id="l_engler" transform="translate(195,945) rotate(-90)"><text><tspan x="0" y="-0.65">Checking System Rules Using Extensions</tspan><tspan x="0" y="2.75">Engler et al. 2000</tspan></text></g>
<g id="d8" class="dt" transform="translate(217.5,841.5) rotate(-90)"><rect x="-36.5" y="-5.5" width="73" height="11"/><text><tspan x="0" y="-2.35">How the Security of Software</tspan><tspan x="0" y="1.05">Develops Over Time</tspan><tspan x="0" y="4.45">Ozment and Schechter 2006</tspan></text></g>
<g id="d7" class="dt" transform="translate(212,944.5) rotate(-90)"><rect x="-42.5" y="-5.5" width="85" height="11"/><text><tspan x="0" y="-2.35">Evolution of Security Practices in</tspan><tspan x="0" y="1.05">Open Source Software Projects</tspan><tspan x="0" y="4.45">Ozment et al. 2007</tspan></text></g>
<g id="l_alh" transform="translate(192,841) rotate(-90)"><text><tspan x="0" y="-0.65">Vulnerability Discovery</tspan><tspan x="0" y="2.75">Alhazmi 2005</tspan></text></g>
<g id="l_howard" transform="translate(230,843.5) rotate(-90)"><text><tspan x="0" y="-0.65">Software Security Metrics</tspan><tspan x="0" y="2.75">Howard 2006</tspan></text></g>
<g id="l_count" transform="translate(390,841) rotate(-90)"><text><tspan x="0" y="-0.65">Counting Bugs is Harder</tspan><tspan x="0" y="2.75">Than You Think, 2011</tspan></text></g>
<g id="w13" class="wh" transform="translate(452,841.5) rotate(-90)"><rect x="-35.5" y="-5.5" width="71" height="11"/><text><tspan x="0" y="-2.35">Technical and Social Factors in</tspan><tspan x="0" y="1.05">Static Analysis Adoption</tspan><tspan x="0" y="4.45">Johnson 2014</tspan></text></g>
<g id="w14" class="wh" transform="translate(467,841.5) rotate(-90)"><rect x="-27.5" y="-4.5" width="55" height="9"/><text><tspan x="0" y="-0.65">Error Message Design</tspan><tspan x="0" y="2.75">Barik et al. 2018</tspan></text></g>
<g id="w15" class="wh" transform="translate(481,841.5) rotate(-90)"><rect x="-24.5" y="-5.5" width="49" height="11"/><text><tspan x="0" y="-2.35">Tool Support for</tspan><tspan x="0" y="1.05">Code Reviews, Bacchelli</tspan><tspan x="0" y="4.45">2013</tspan></text></g>
<g id="l_mcr" transform="translate(493,840) rotate(-90)"><text><tspan x="0" y="-0.65">Modern Code Review</tspan><tspan x="0" y="2.75">Bacchelli 2013</tspan></text></g>
<g id="l_fagan" transform="translate(508,842) rotate(-90)"><text><tspan x="0" y="-0.65">Code Review</tspan><tspan x="0" y="2.75">Fagan 1976</tspan></text></g>
<g id="w16" class="wh" transform="translate(524,842.5) rotate(-90)"><rect x="-28.5" y="-5.5" width="57" height="11"/><text><tspan x="0" y="-2.35">Investigating Code</tspan><tspan x="0" y="1.05">Review Quality</tspan><tspan x="0" y="4.45">McIntosh 2014</tspan></text></g>
<g id="w17" class="wh" transform="translate(538,841.5) rotate(-90)"><rect x="-32.5" y="-5.5" width="65" height="11"/><text><tspan x="0" y="-2.35">An Investigation of Defect</tspan><tspan x="0" y="1.05">Detection in Code Inspections</tspan><tspan x="0" y="4.45">Porter et al. 1997</tspan></text></g>
<g id="l_storey" transform="translate(550,842.5) rotate(-90)"><text><tspan x="0" y="-0.65">A Survey of Program Comprehension</tspan><tspan x="0" y="2.75">Storey 2006</tspan></text></g>
<g id="l_vonm" transform="translate(565,842.5) rotate(-90)"><text><tspan x="0" y="-0.65">Cognitive Models of Program Understanding</tspan><tspan x="0" y="2.75">von Mayrhauser 1995</tspan></text></g>
<g id="l_katz" transform="translate(580,845) rotate(-90)"><text><tspan x="0" y="-0.65">A Controlled Experiment on Debugging Strategies</tspan><tspan x="0" y="2.75">Katz and Anderson 1987</tspan></text></g>
<g id="l_letov" transform="translate(593,841.5) rotate(-90)"><text><tspan x="0" y="-0.65">Code Reading</tspan><tspan x="0" y="2.75">Letovsky 1986</tspan></text></g>
<g id="l_solo" transform="translate(608,844) rotate(-90)"><text><tspan x="0" y="-0.65">Plans</tspan><tspan x="0" y="2.75">Soloway 1984</tspan></text></g>
</svg>
